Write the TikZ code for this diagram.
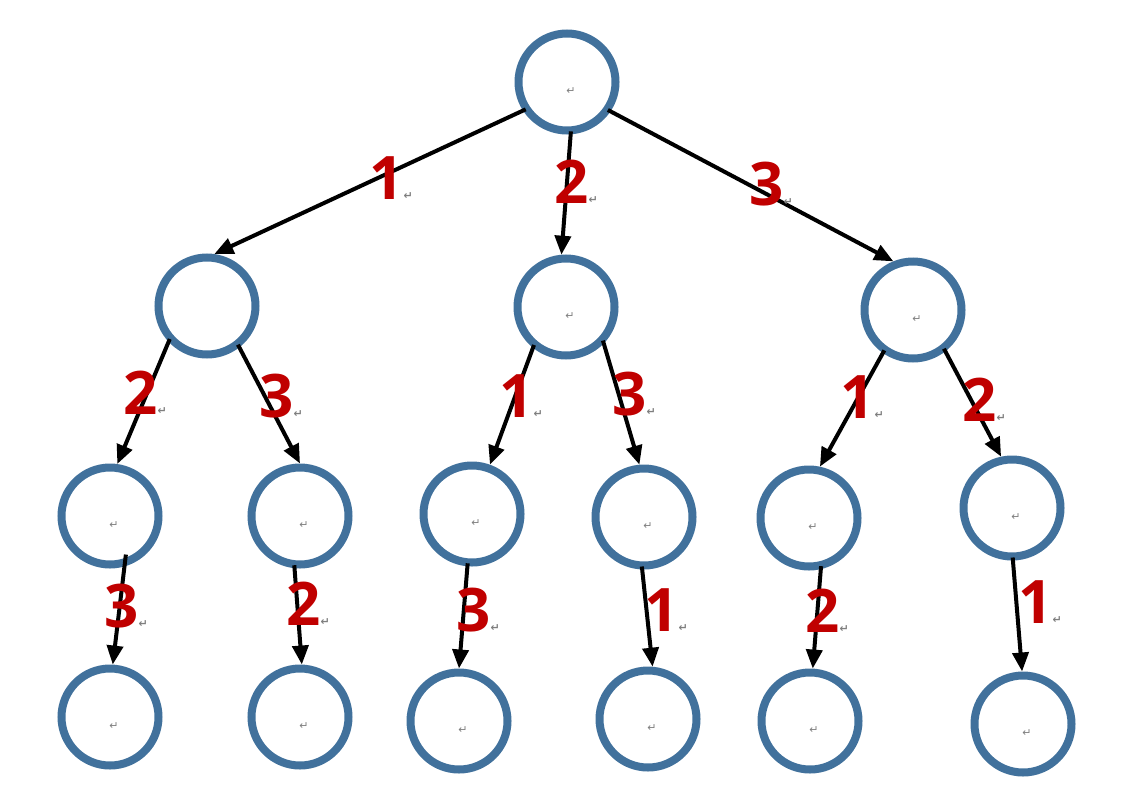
\documentclass[tikz,border=0pt]{standalone}
\usepackage{fontspec}
\setmainfont{Open Sans}
\newfontfamily\retfont{DejaVu Sans}
\usetikzlibrary{arrows.meta}
\definecolor{RingBlue}{HTML}{41719C}
\definecolor{NumRed}{HTML}{C00000}
\definecolor{RetGray}{HTML}{7F7F7F}
\newcommand{\ret}{{\retfont\fontsize{11}{11}\selectfont\color{RetGray}↵}}
\tikzset{
  ring/.style={circle,draw=RingBlue,line width=8pt,minimum size=97pt,inner sep=0pt},
  mk/.style={label={[xshift=4pt,yshift=-9pt,inner sep=0pt]center:\ret}},
  num/.style={font=\fontsize{60}{60}\selectfont\bfseries,text=NumRed,inner sep=0pt},
  edge/.style={-{Triangle[length=19pt,width=16pt]},line width=4pt,shorten <=-3pt}
}

\begin{document}
\begin{tikzpicture}[x=1pt,y=-1pt]
  \useasboundingbox (0,0) rectangle (1147,795);
  % rings
  \node[ring,mk] (root) at (567,82) {};
  \node[ring] (a) at (207,306) {};
  \node[ring,mk] (b) at (566,307) {};
  \node[ring,mk] (c) at (913,310) {};
  \node[ring,mk] (a1) at (110,516) {};
  \node[ring,mk] (a2) at (300,516) {};
  \node[ring,mk] (b1) at (472,514) {};
  \node[ring,mk] (b2) at (644,517) {};
  \node[ring,mk] (c1) at (809,518) {};
  \node[ring,mk] (c2) at (1012,508) {};
  \node[ring,mk] (a11) at (110,717) {};
  \node[ring,mk] (a21) at (300,717) {};
  \node[ring,mk] (b11) at (459,721) {};
  \node[ring,mk] (b21) at (648,719) {};
  \node[ring,mk] (c11) at (810,721) {};
  \node[ring,mk] (c21) at (1023,724) {};
  % edges
  \draw[edge] (root.213) -- (a.82);
  \draw[edge] (root.274) -- (b.95);
  \draw[edge] (root.326) -- (c.112);
  \draw[edge] (a.223) -- (a1.82);
  \draw[edge] (a.308) -- (a2.90);
  \draw[edge] (b.231) -- (b1.70);
  \draw[edge] (b.316) -- (b2.95);
  \draw[edge] (c.235) -- (c1.78);
  \draw[edge] (c.308) -- (c2.102);
  \draw[edge,shorten <=-12pt] (a1.286) -- (a11.87);
  \draw[edge] (a2.264) -- (a21.88);
  \draw[edge] (b1.265) -- (b11.90);
  \draw[edge] (b2.268) -- (b21.85);
  \draw[edge] (c1.283) -- (c11.87);
  \draw[edge] (c2.271) -- (c21.91);
  % labels
  \node[num] (n1) at (391,178) {1\ret};
  \node[num] (n2) at (576,182) {2\ret};
  \node[num] (n3) at (771,184) {3\ret};
  \node[num] (na1) at (145,393) {2\ret};
  \node[num] (na2) at (281,396) {3\ret};
  \node[num] (nb1) at (521,396) {1\ret};
  \node[num] (nb2) at (634,394) {3\ret};
  \node[num] (nc1) at (862,397) {1\ret};
  \node[num] (nc2) at (984,400) {2\ret};
  \node[num] (na11) at (126,606) {3\ret};
  \node[num] (na21) at (308,604) {2\ret};
  \node[num] (nb11) at (478,610) {3\ret};
  \node[num] (nb21) at (666,610) {1\ret};
  \node[num] (nc11) at (827,611) {2\ret};
  \node[num] (nc21) at (1040,602) {1\ret};
\end{tikzpicture}
\end{document}
